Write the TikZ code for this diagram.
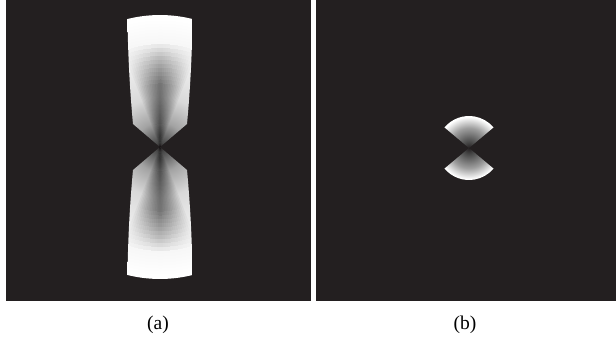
\documentclass[tikz,border=0pt]{standalone}
\usepackage{fontspec}
\setmainfont{Liberation Serif}
\definecolor{panelbg}{HTML}{231F20}
\pgfdeclareradialshading{beamA}{\pgfpoint{0bp}{0bp}}{color(0bp)=(panelbg); color(5bp)=(black!72); color(25bp)=(black!36); color(50bp)=(black!15); color(90bp)=(black!5); color(128bp)=(white); color(140bp)=(white)}
\pgfdeclareradialshading{veil}{\pgfpoint{0bp}{0bp}}{color(0bp)=(white); color(12bp)=(black!4); color(60bp)=(black!4.5); color(105bp)=(white); color(140bp)=(white)}
\pgfdeclareradialshading{beamB}{\pgfpoint{0bp}{0bp}}{color(0bp)=(panelbg); color(6bp)=(black!72); color(20bp)=(black!38); color(31bp)=(white); color(36bp)=(white)}

\begin{document}
\begin{tikzpicture}[x=1pt, y=-1pt,
    panel/.style={fill=panelbg},
    caption/.style={font=\fontsize{19.5}{23}\selectfont, inner sep=0pt}]
  \useasboundingbox[fill=white] (0,0) rectangle (616,343);
  \fill[panel] (6,0) rectangle (311,301);
  \fill[panel] (316,0) rectangle (616,301);
  \foreach \s in {1,-1}{
    \begin{scope}[shift={(160,147)}, yscale=\s]
      \clip (0,0) -- (-27,-23) .. controls (-30,-55) and (-32,-90) .. (-32.5,-128)
        .. controls (-11,-133.3) and (11,-133.3) .. (32.5,-128)
        .. controls (32,-90) and (30,-55) .. (27,-23) -- cycle;
      \node[inner sep=0pt] at (0,0) {\pgfuseshading{beamA}};
      \begin{scope}[blend mode=multiply]
        \foreach \a in {1.5,3,...,21}{
          \begin{scope}
            \clip (0,0) -- (-90-\a:150) -- (-90+\a:150) -- cycle;
            \node[inner sep=0pt] at (0,0) {\pgfuseshading{veil}};
          \end{scope}
        }
      \end{scope}
    \end{scope}
    \begin{scope}[shift={(469,148)}, yscale=\s]
      \clip (0,0) -- (220:32) arc (220:320:32) -- cycle;
      \node[inner sep=0pt] at (0,0) {\pgfuseshading{beamB}};
    \end{scope}
  }
  \node[caption] (capA) at (158,325) {(a)};
  \node[caption] (capB) at (465,325) {(b)};
\end{tikzpicture}
\end{document}
